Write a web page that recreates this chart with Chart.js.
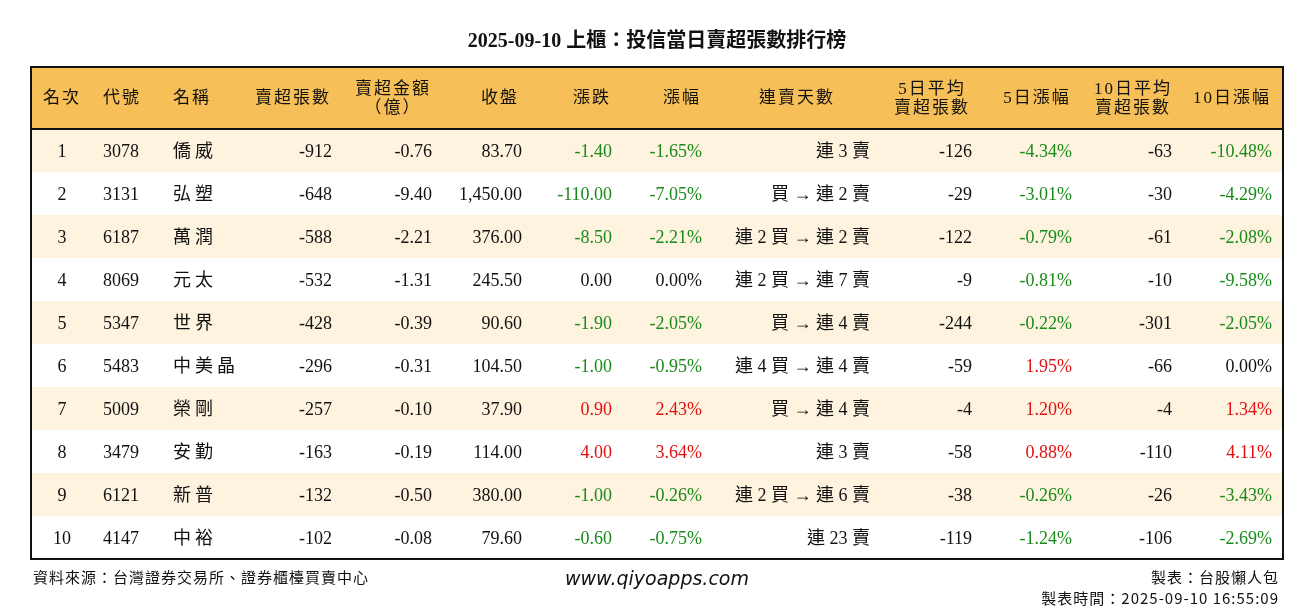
<!DOCTYPE html>
<html lang="zh-Hant">
<head>
<meta charset="UTF-8" />
<title>投信當日賣超張數排行榜</title>
<style>
  body { margin: 0; background: #fff; }
  canvas { display: block; }
</style>
<script src="https://cdn.jsdelivr.net/npm/chart.js"></script>
</head>
<body>
<canvas id="tbl" width="1314" height="612"></canvas>
<script>
const title = '2025-09-10 上櫃：投信當日賣超張數排行榜';
const headers = ['名次', '代號', '名稱', '賣超張數', '賣超金額\n（億）', '收盤', '漲跌', '漲幅', '連賣天數', '5日平均\n賣超張數', '5日漲幅', '10日平均\n賣超張數', '10日漲幅'];
const ranks = [1, 2, 3, 4, 5, 6, 7, 8, 9, 10];
const codes = ['3078', '3131', '6187', '8069', '5347', '5483', '5009', '3479', '6121', '4147'];
const names = ['僑威', '弘塑', '萬潤', '元太', '世界', '中美晶', '榮剛', '安勤', '新普', '中裕'];
const sellLots = [-912, -648, -588, -532, -428, -296, -257, -163, -132, -102];
const sellAmt = [-0.76, -9.40, -2.21, -1.31, -0.39, -0.31, -0.10, -0.19, -0.50, -0.08];
const closes = [83.70, 1450.00, 376.00, 245.50, 90.60, 104.50, 37.90, 114.00, 380.00, 79.60];
const changes = [-1.40, -110.00, -8.50, 0.00, -1.90, -1.00, 0.90, 4.00, -1.00, -0.60];
const changePct = [-1.65, -7.05, -2.21, 0.00, -2.05, -0.95, 2.43, 3.64, -0.26, -0.75];
const streaks = ['連 3 賣', '買 → 連 2 賣', '連 2 買 → 連 2 賣', '連 2 買 → 連 7 賣', '買 → 連 4 賣', '連 4 買 → 連 4 賣', '買 → 連 4 賣', '連 3 賣', '連 2 買 → 連 6 賣', '連 23 賣'];
const avg5 = [-126, -29, -122, -9, -244, -59, -4, -58, -38, -119];
const pct5 = [-4.34, -3.01, -0.79, -0.81, -0.22, 1.95, 1.20, 0.88, -0.26, -1.24];
const avg10 = [-63, -30, -61, -10, -301, -66, -4, -110, -26, -106];
const pct10 = [-10.48, -4.29, -2.08, -9.58, -2.05, 0.00, 1.34, 4.11, -3.43, -2.69];
const source = '資料來源：台灣證券交易所、證券櫃檯買賣中心';
const site = 'www.qiyoapps.com';
const maker = '製表：台股懶人包';
const madeAt = '製表時間：2025-09-10 16:55:09';

// column anchors in table units (x scale 0..1252), header centres and cell anchors
const headX = [31, 91, 161, 262, 362, 469, 561, 651, 766, 901, 1006, 1102, 1201];
const cellX = [31, 72, 142, 301, 401, 491, 581, 671, 839, 941, 1041, 1141, 1241];
const cellAlign = ['center', 'left', 'left', 'right', 'right', 'right', 'right', 'right', 'right', 'right', 'right', 'right', 'right'];
const HEAD_H = 62, ROW_H = 43;

const GREEN = '#1a8a1a', RED = '#e01010', BLACK = '#111';
const colorOf = v => v > 0 ? RED : v < 0 ? GREEN : BLACK;
const fmt = (v, d) => v.toLocaleString('en-US', { minimumFractionDigits: d, maximumFractionDigits: d });
const SERIF = '"Liberation Serif", "Noto Sans CJK TC", serif';

const rows = ranks.map((r, i) => [
  [String(r), BLACK], [codes[i], BLACK], [names[i], BLACK],
  [String(sellLots[i]), BLACK], [fmt(sellAmt[i], 2), BLACK], [fmt(closes[i], 2), BLACK],
  [fmt(changes[i], 2), colorOf(changes[i])], [fmt(changePct[i], 2) + '%', colorOf(changePct[i])],
  [streaks[i], BLACK], [String(avg5[i]), BLACK], [fmt(pct5[i], 2) + '%', colorOf(pct5[i])],
  [String(avg10[i]), BLACK], [fmt(pct10[i], 2) + '%', colorOf(pct10[i])]
]);

const tablePlugin = {
  id: 'tablePlugin',
  afterDraw(chart) {
    const { ctx, scales: { x, y } } = chart;
    const X = v => x.getPixelForValue(v), Y = v => y.getPixelForValue(v);
    const L = X(0), R = X(1252);
    ctx.save();
    // title
    ctx.fillStyle = BLACK;
    ctx.font = 'bold 20px ' + SERIF;
    ctx.textAlign = 'center'; ctx.textBaseline = 'middle';
    ctx.fillText(title, (L + R) / 2, 42);
    // header background
    ctx.fillStyle = '#f6bf57';
    ctx.fillRect(L, Y(0), R - L, Y(HEAD_H) - Y(0));
    // stripes
    rows.forEach((row, i) => {
      const top = HEAD_H + i * ROW_H;
      ctx.fillStyle = i % 2 === 0 ? '#fdf3df' : '#ffffff';
      ctx.fillRect(L, Y(top), R - L, Y(top + ROW_H) - Y(top));
    });
    // header text
    ctx.fillStyle = BLACK;
    ctx.font = '17px ' + SERIF;
    ctx.letterSpacing = '2px';
    headers.forEach((h, c) => {
      const lines = h.split('\n');
      lines.forEach((ln, k) => {
        const cy = HEAD_H / 2 + 1 + (k - (lines.length - 1) / 2) * 19;
        ctx.fillText(ln, X(headX[c]), Y(cy));
      });
    });
    // cells
    ctx.font = '18px ' + SERIF;
    rows.forEach((row, i) => {
      const cy = HEAD_H + i * ROW_H + ROW_H / 2 + 2;
      row.forEach(([txt, col], c) => {
        ctx.fillStyle = col;
        ctx.textAlign = cellAlign[c];
        ctx.letterSpacing = c === 2 ? '4px' : '0px';
        ctx.fillText(txt, X(cellX[c]), Y(cy));
      });
    });
    ctx.letterSpacing = '0px';
    // borders
    ctx.strokeStyle = BLACK; ctx.lineWidth = 2;
    ctx.strokeRect(L, Y(0), R - L, Y(HEAD_H + ROW_H * rows.length) - Y(0));
    ctx.beginPath(); ctx.moveTo(L, Y(HEAD_H)); ctx.lineTo(R, Y(HEAD_H)); ctx.stroke();
    // footer
    ctx.fillStyle = BLACK;
    ctx.font = '15px "Noto Sans CJK TC", sans-serif';
    ctx.letterSpacing = '1px';
    ctx.textAlign = 'left';
    ctx.fillText(source, L + 2, 577);
    ctx.textAlign = 'right';
    ctx.fillText(maker, R - 4, 577);
    ctx.fillText(madeAt, R - 4, 598);
    ctx.letterSpacing = '0px';
    ctx.textAlign = 'center';
    ctx.font = 'italic 19px "DejaVu Sans", sans-serif';
    ctx.fillText(site, (L + R) / 2, 580);
    ctx.restore();
  }
};

new Chart(document.getElementById('tbl').getContext('2d'), {
  type: 'scatter',
  data: { datasets: [{ data: [] }] },
  options: {
    responsive: false,
    animation: false,
    layout: { padding: { left: 31, right: 31, top: 67, bottom: 612 - 67 - (HEAD_H + ROW_H * 10) } },
    scales: {
      x: { type: 'linear', min: 0, max: 1252, display: false },
      y: { type: 'linear', min: 0, max: HEAD_H + ROW_H * 10, reverse: true, display: false }
    },
    plugins: { legend: { display: false }, tooltip: { enabled: false } }
  },
  plugins: [tablePlugin]
});
</script>
</body>
</html>
